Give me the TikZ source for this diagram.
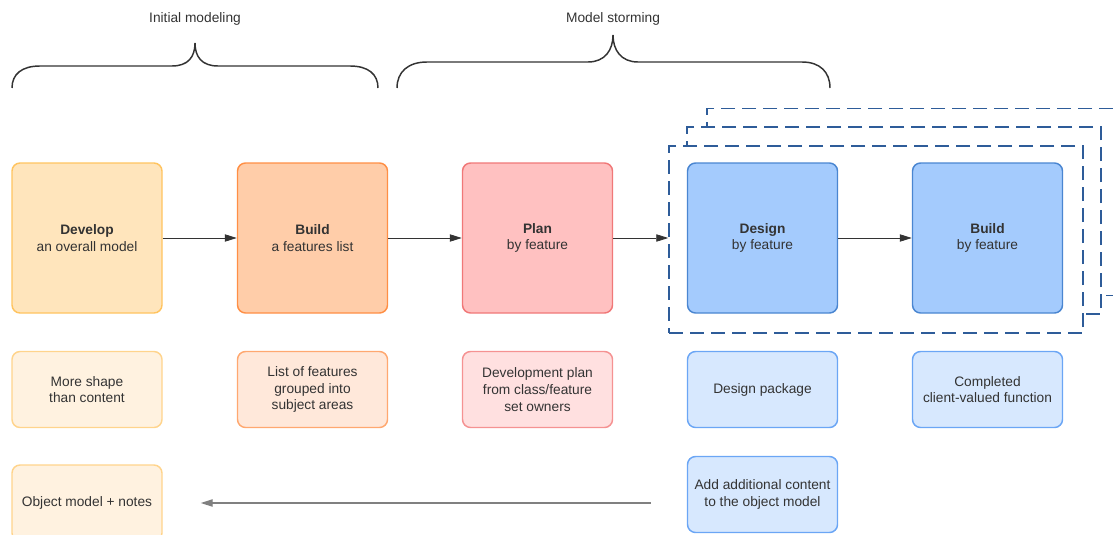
\documentclass[tikz,border=0pt]{standalone}
\usepackage{fontspec}
\setmainfont{Liberation Sans}
\usetikzlibrary{arrows.meta}
\definecolor{ink}{HTML}{333333}
\definecolor{devfill}{HTML}{FFE5BC}
\definecolor{devline}{HTML}{FFC460}
\definecolor{devlite}{HTML}{FFF2E0}
\definecolor{devedge}{HTML}{FFD48C}
\definecolor{listfill}{HTML}{FFCDA9}
\definecolor{listline}{HTML}{FF8F45}
\definecolor{listlite}{HTML}{FFE8DA}
\definecolor{listedge}{HTML}{FFA870}
\definecolor{planfill}{HTML}{FFC1C1}
\definecolor{planline}{HTML}{F07878}
\definecolor{planlite}{HTML}{FFE0E0}
\definecolor{planedge}{HTML}{F59292}
\definecolor{featfill}{HTML}{A4CBFD}
\definecolor{featline}{HTML}{4A86D1}
\definecolor{featlite}{HTML}{D7E8FE}
\definecolor{featedge}{HTML}{6BA6F5}
\definecolor{loopline}{HTML}{2E5C99}
\begin{document}
\begin{tikzpicture}[x=0.75pt, y=-0.75pt, every node/.style = {shape=rectangle, rounded corners=6pt, draw, align=center, text=ink, font=\fontsize{10.3}{12.6}\selectfont}, line width=1.1pt]
	\tikzstyle{phase} = [minimum width=112.5pt, minimum height=112.5pt]
	\tikzstyle{result} = [minimum width=112.5pt, minimum height=57pt]
	\tikzstyle{devbox} = [phase, fill=devfill, draw=devline]
	\tikzstyle{listbox} = [phase, fill=listfill, draw=listline]
	\tikzstyle{planbox} = [phase, fill=planfill, draw=planline]
	\tikzstyle{featbox} = [phase, fill=featfill, draw=featline]
	\tikzstyle{devnote} = [result, fill=devlite, draw=devedge]
	\tikzstyle{listnote} = [result, fill=listlite, draw=listedge]
	\tikzstyle{plannote} = [result, fill=planlite, draw=planedge]
	\tikzstyle{featnote} = [result, fill=featlite, draw=featedge]
	\tikzstyle{iteration} = [sharp corners, fill=white, draw=loopline, dash pattern=on 10.5pt off 5.25pt, minimum width=310.5pt, minimum height=140.25pt]
	\tikzstyle{label} = [draw=none]
	\tikzstyle{brace} = [draw=ink, line width=1.1pt]
	\tikzstyle{flow} = [draw=ink, line width=0.6pt, -{Triangle[length=9pt, width=5.5pt]}]
	\tikzstyle{back} = [draw=black!50, line width=1pt, -{Triangle[length=9pt, width=5.5pt]}]
	\clip (0,0) rectangle (1113,535);
	% stacked iterations, front one last
	\node[iteration] (iter3) at (914,202) {};
	\node[iteration] (iter2) at (894,220.5) {};
	\node[iteration] (iter1) at (876,239.5) {};
	\node[devbox] (develop) at (87,238) {\textbf{Develop}\\an overall model};
	\node[listbox] (features) at (312.5,238) {\textbf{Build}\\a features list};
	\node[planbox] (plan) at (537.5,238) {\textbf{Plan}\\by feature};
	\node[featbox] (design) at (762.5,238) {\textbf{Design}\\by feature};
	\node[featbox] (build) at (987.5,238) {\textbf{Build}\\by feature};
	\node[devnote] (shape) at (87,389.5) {More shape\\than content};
	\node[listnote] (areas) at (312.5,389.5) {List of features\\grouped into\\subject areas};
	\node[plannote] (owners) at (537.5,389.5) {Development plan\\from class/feature\\set owners};
	\node[featnote] (package) at (762.5,389.5) {Design package};
	\node[featnote] (function) at (987.5,389.5) {Completed\\client-valued function};
	\node[devnote] (objmodel) at (87,503) {Object model + notes};
	\node[featnote] (addmore) at (762.5,494.5) {Add additional content\\to the object model};
	\draw[flow] (develop) -- (features);
	\draw[flow] (features) -- (plan);
	\draw[flow] (plan) -- (plan -| iter1.west);
	\draw[flow] (design) -- (build);
	\draw[back, shorten <=27pt, shorten >=28.5pt] (addmore.west |- objmodel) -- (objmodel.east);
	\node[label] (initial) at (195,19) {Initial modeling};
	\node[label] (storming) at (613,19) {Model storming};
	\draw[brace] (12,88) .. controls (12,74) and (22,66) .. (40,66) -- (172,66) .. controls (188,66) and (195,57) .. (195,43) .. controls (195,57) and (202,66) .. (218,66) -- (350,66) .. controls (368,66) and (378,74) .. (378,88);
	\draw[brace] (397,88) .. controls (397,72) and (408,62) .. (427,62) -- (588,62) .. controls (605,62) and (613,50) .. (613,35) .. controls (613,50) and (621,62) .. (638,62) -- (802,62) .. controls (820,62) and (830,72) .. (830,88);
\end{tikzpicture}
\end{document}
